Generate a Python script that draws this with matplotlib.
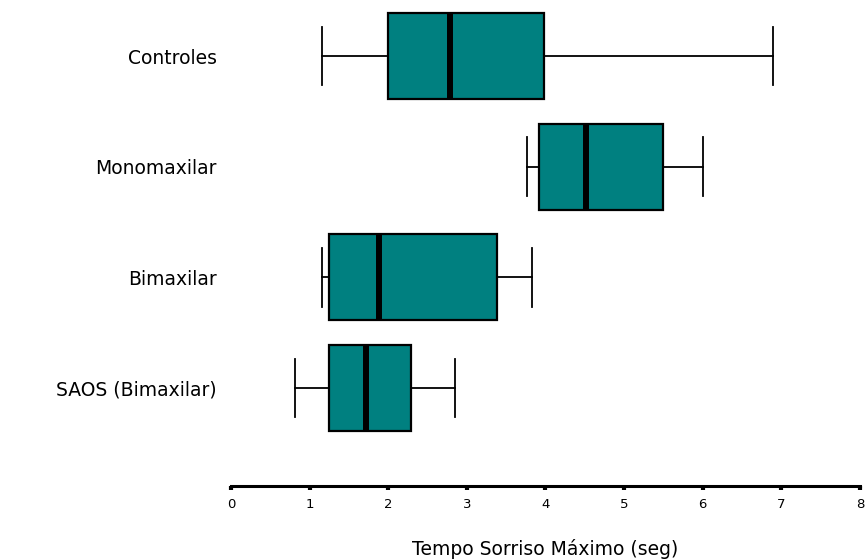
import matplotlib.pyplot as plt

# Smile duration per group (seconds): whisker ends, quartiles, median
groups = ["SAOS (Bimaxilar)", "Bimaxilar", "Monomaxilar", "Controles"]
whis_lo = [0.81, 1.16, 3.76, 1.16]
q1 = [1.25, 1.25, 3.92, 2.00]
median = [1.72, 1.88, 4.51, 2.79]
q3 = [2.29, 3.39, 5.49, 3.98]
whis_hi = [2.85, 3.83, 6.01, 6.90]

plt.rcParams['font.family'] = ['DejaVu Sans']

stats = []
for i, g in enumerate(groups):
    stats.append({"label": g, "whislo": whis_lo[i], "q1": q1[i], "med": median[i],
                  "q3": q3[i], "whishi": whis_hi[i], "fliers": []})

fig = plt.figure(figsize=(8.66, 5.59), dpi=100)
ax = fig.add_axes([0.2667, 0.1306, 0.7263, 0.8694])

ax.bxp(stats, positions=[1, 2, 3, 4], vert=False, widths=0.777, capwidths=0.53,
       patch_artist=True, showfliers=False,
       boxprops=dict(facecolor="#008080", edgecolor="black", linewidth=1.6),
       medianprops=dict(color="black", linewidth=4.3, solid_capstyle="butt"),
       whiskerprops=dict(color="black", linewidth=1.3),
       capprops=dict(color="black", linewidth=1.3))

ax.set_xlim(0, 8)
ax.set_ylim(0.115, 4.506)
ax.set_xticks(range(9))
ax.tick_params(axis="x", direction="out", length=3, width=3, pad=6, labelsize=9.5)
ax.tick_params(axis="y", length=0, pad=10, labelsize=13.5)

for s in ["top", "right", "left"]:
    ax.spines[s].set_visible(False)
ax.spines["bottom"].set_linewidth(2.2)

ax.set_xlabel("Tempo Sorriso Máximo (seg)", fontsize=13.5, labelpad=20)

fig.savefig("out.png", dpi=100)
